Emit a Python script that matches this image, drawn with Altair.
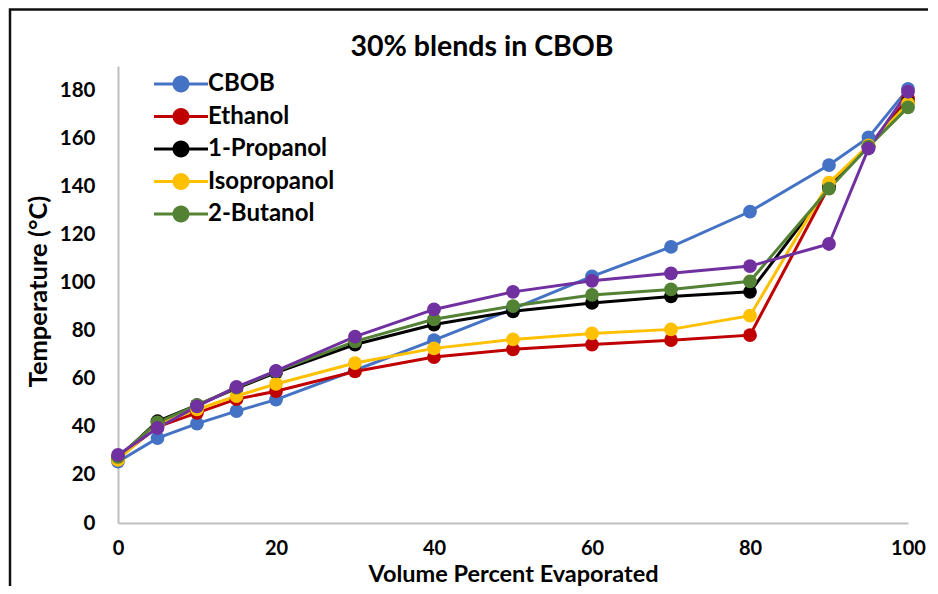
import altair as alt
import pandas as pd

x_vals = [0, 5, 10, 15, 20, 30, 40, 50, 60, 70, 80, 90, 95, 100]
series_names = ["CBOB", "Ethanol", "1-Propanol", "Isopropanol", "2-Butanol", "1-Butanol"]
legend_names = ["CBOB", "Ethanol", "1-Propanol", "Isopropanol", "2-Butanol"]
cbob = [25.5, 35.3, 41.3, 46.5, 51.3, 63.5, 76.0, 89.0, 102.5, 114.8, 129.5, 148.8, 160.3, 180.5]
ethanol = [27.0, 40.0, 45.8, 51.5, 54.8, 63.0, 69.0, 72.2, 74.2, 76.0, 78.1, 140.0, 156.5, 176.5]
propanol1 = [27.0, 42.3, 49.0, 56.0, 62.5, 74.2, 82.5, 88.0, 91.5, 94.2, 96.1, 139.5, 156.5, 175.0]
isopropanol = [26.2, 41.0, 47.2, 52.8, 57.8, 66.5, 72.6, 76.3, 78.8, 80.5, 86.2, 141.5, 157.0, 174.5]
butanol2 = [27.5, 41.8, 49.0, 56.3, 63.0, 75.5, 84.7, 90.2, 94.8, 97.1, 100.5, 139.0, 156.5, 172.8]
butanol1 = [28.3, 39.5, 48.5, 56.6, 63.2, 77.5, 88.8, 96.1, 100.7, 103.8, 106.8, 116.0, 155.7, 179.3]
colors = ["#4472C4", "#C00000", "#000000", "#FFC000", "#548235", "#7030A0"]

all_series = [cbob, ethanol, propanol1, isopropanol, butanol2, butanol1]
rows = []
for name, vals in zip(series_names, all_series):
    for xv, yv in zip(x_vals, vals):
        rows.append({"Series": name, "x": xv, "y": yv})
df = pd.DataFrame(rows)

FONT = "Lato"
color_scale = alt.Scale(domain=series_names, range=colors)
x_enc = alt.X("x:Q", scale=alt.Scale(domain=[0, 100], nice=False),
              axis=alt.Axis(values=[0, 20, 40, 60, 80, 100], title="Volume Percent Evaporated",
                            grid=False, ticks=False, tickSize=0, labelPadding=25,
                            labelFlush=False, labelOverlap=False, titleFontSize=23.5,
                            labelFontSize=20,
                            labelBaseline="middle", titleY=51, titleBaseline="middle"))
y_enc = alt.Y("y:Q", scale=alt.Scale(domain=[0, 190], nice=False),
              axis=alt.Axis(values=list(range(0, 181, 20)), title="Temperature (°C)",
                            grid=False, ticks=False, tickSize=0, labelPadding=23,
                            labelFlush=False, labelOverlap=False,
                            titleX=-80, titleY=225, titleBaseline="middle"))

sym_path = ("M -2.7 -0.15 L 2.7 -0.15 L 2.7 0.15 L -2.7 0.15 Z "
            "M 0.85 0 A 0.85 0.85 0 1 1 -0.85 0 A 0.85 0.85 0 1 1 0.85 0 Z")

lines = alt.Chart(df).mark_line(strokeWidth=3).encode(
    x=x_enc, y=y_enc,
    color=alt.Color("Series:N", scale=color_scale, legend=None),
    order=alt.Order("x:Q"),
)
points = alt.Chart(df).mark_circle(size=190, opacity=1).encode(
    x="x:Q", y="y:Q",
    color=alt.Color("Series:N", scale=color_scale,
                    legend=alt.Legend(title=None, orient="none", legendX=51, legendY=6,
                                      values=legend_names, symbolType=sym_path, symbolSize=400,
                                      symbolStrokeWidth=0, labelFont=FONT, labelFontSize=24,
                                      labelFontWeight="bold", labelColor="#000000",
                                      labelOffset=15, rowPadding=8.5, padding=0)),
)

frame = alt.Chart(pd.DataFrame({"a": [0]})).mark_rect(
    filled=False, stroke="#111111", strokeWidth=2.5, fill=None
).encode(x=alt.value(-108), x2=alt.value(840), y=alt.value(-56.5), y2=alt.value(560))

chart = alt.layer(frame, lines, points).resolve_scale(color="independent").properties(
    width=790, height=457,
    background="white",
    autosize=alt.AutoSizeParams(type="none"),
    padding={"left": 110, "top": 58, "right": 20, "bottom": 63},
    title=alt.TitleParams("30% blends in CBOB", font=FONT, fontSize=28.5, fontWeight="bold",
                          color="#000000", anchor="middle", dx=-31, offset=-53),
).configure_axis(
    labelFont=FONT, labelFontSize=20.5, labelFontWeight="bold", labelColor="#000000",
    titleFont=FONT, titleFontSize=25.5, titleFontWeight="bold", titleColor="#000000",
    domainColor="#BFBFBF", domainWidth=2,
).configure_view(stroke=None)

chart.save("out.html", embed_options={"renderer": "svg", "actions": False})
